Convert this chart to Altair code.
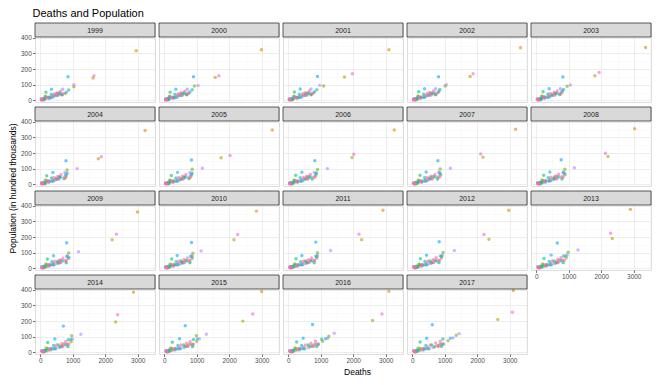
import math
import altair as alt
import pandas as pd

# ---------------- data ----------------
years = [1999, 2000, 2001, 2002, 2003, 2004, 2005, 2006, 2007, 2008,
         2009, 2010, 2011, 2012, 2013, 2014, 2015, 2016, 2017]

states = ["Alabama", "Alaska", "Arizona", "Arkansas", "California", "Colorado",
          "Connecticut", "Delaware", "District of Columbia", "Florida", "Georgia",
          "Hawaii", "Idaho", "Illinois", "Indiana", "Iowa", "Kansas", "Kentucky",
          "Louisiana", "Maine", "Maryland", "Massachusetts", "Michigan", "Minnesota",
          "Mississippi", "Missouri", "Montana", "Nebraska", "Nevada", "New Hampshire",
          "New Jersey", "New Mexico", "New York", "North Carolina", "North Dakota",
          "Ohio", "Oklahoma", "Oregon", "Pennsylvania", "Rhode Island",
          "South Carolina", "South Dakota", "Tennessee", "Texas", "Utah", "Vermont",
          "Virginia", "Washington", "West Virginia", "Wisconsin", "Wyoming"]

# population (hundred thousands) and deaths, one value per year 1999..2017
AL_pop = [34, 34, 35, 35, 35, 35, 36, 36, 36, 36, 37, 37, 37, 37, 37, 38, 38, 38, 38]
AL_deaths = [560, 570, 580, 590, 580, 570, 590, 610, 620, 630, 620, 610, 630, 650, 660, 680, 720, 760, 800]
AK_pop = [5, 5, 5, 5, 5, 5, 5, 5, 5, 5, 6, 6, 6, 6, 6, 6, 6, 6, 6]
AK_deaths = [90, 100, 110, 100, 110, 120, 110, 120, 130, 120, 110, 120, 130, 140, 130, 140, 150, 140, 150]
AZ_pop = [36, 38, 39, 40, 42, 43, 45, 46, 47, 48, 49, 49, 50, 51, 51, 52, 53, 54, 55]
AZ_deaths = [650, 700, 720, 740, 760, 780, 800, 820, 840, 830, 800, 790, 810, 840, 860, 880, 900, 930, 950]
AR_pop = [21, 21, 21, 22, 22, 22, 22, 22, 22, 23, 23, 23, 23, 23, 23, 23, 24, 24, 24]
AR_deaths = [330, 340, 350, 360, 350, 360, 370, 380, 390, 400, 390, 400, 410, 420, 430, 440, 450, 470, 480]
CA_pop = [317, 324, 324, 336, 338, 344, 347, 348, 352, 355, 360, 366, 372, 372, 377, 385, 389, 390, 396]
CA_deaths = [2951, 2988, 3097, 3331, 3362, 3225, 3322, 3261, 3179, 3027, 2991, 2836, 2915, 2967, 2897, 2869, 2997, 3097, 3109]
CO_pop = [32, 33, 34, 35, 35, 36, 36, 37, 37, 38, 38, 39, 39, 40, 41, 42, 42, 43, 44]
CO_deaths = [420, 440, 450, 460, 470, 480, 490, 500, 510, 520, 530, 540, 570, 600, 630, 660, 700, 740, 780]
CT_pop = [27, 27, 27, 28, 28, 28, 28, 28, 28, 28, 28, 29, 29, 29, 29, 29, 29, 29, 29]
CT_deaths = [150, 160, 170, 180, 170, 160, 170, 180, 190, 180, 170, 180, 200, 210, 190, 180, 190, 200, 180]
DE_pop = [6, 6, 6, 7, 7, 7, 7, 7, 7, 7, 7, 7, 7, 8, 8, 8, 8, 8, 8]
DE_deaths = [50, 60, 60, 70, 60, 70, 80, 70, 80, 70, 80, 90, 80, 90, 100, 90, 100, 110, 100]
DC_pop = [4, 4, 4, 4, 4, 4, 4, 4, 4, 4, 4, 5, 5, 5, 5, 5, 5, 5, 5]
DC_deaths = [110, 120, 130, 120, 130, 140, 130, 120, 110, 120, 110, 100, 90, 100, 90, 100, 110, 120, 100]
FL_pop = [143, 147, 149, 153, 157, 164, 170, 172, 174, 178, 183, 183, 183, 187, 191, 194, 200, 204, 211]
FL_deaths = [1623, 1568, 1729, 1781, 1802, 1787, 1751, 1964, 2176, 2207, 2213, 2146, 2258, 2359, 2340, 2322, 2419, 2593, 2632]
GA_pop = [44, 46, 48, 50, 52, 54, 56, 58, 60, 62, 63, 64, 65, 66, 67, 68, 70, 72, 74]
GA_deaths = [772, 760, 780, 800, 790, 800, 830, 850, 880, 890, 870, 860, 880, 900, 920, 950, 1000, 1060, 1103]
HI_pop = [10, 10, 10, 10, 10, 10, 10, 10, 10, 11, 11, 11, 11, 11, 11, 11, 11, 11, 11]
HI_deaths = [30, 40, 30, 40, 30, 40, 50, 40, 30, 40, 50, 40, 50, 40, 50, 40, 50, 40, 40]
ID_pop = [10, 10, 11, 11, 11, 11, 12, 12, 12, 12, 13, 13, 13, 13, 13, 13, 14, 14, 14]
ID_deaths = [150, 160, 160, 170, 170, 180, 180, 190, 190, 200, 200, 200, 210, 210, 220, 220, 230, 230, 230]
IL_pop = [88, 92, 92, 92, 90, 92, 97, 95, 98, 97, 99, 97, 100, 102, 104, 107, 107, 104, 110]
IL_deaths = [1036, 930, 1091, 1012, 951, 824, 860, 900, 860, 881, 875, 881, 900, 950, 980, 967, 991, 1250, 1355]
IN_pop = [47, 47, 48, 48, 48, 49, 49, 50, 50, 50, 51, 51, 51, 52, 52, 52, 53, 53, 53]
IN_deaths = [580, 590, 600, 610, 600, 590, 620, 640, 650, 640, 630, 650, 680, 700, 720, 740, 780, 820, 860]
IA_pop = [23, 23, 23, 23, 23, 23, 23, 24, 24, 24, 24, 24, 24, 24, 24, 25, 25, 25, 25]
IA_deaths = [170, 180, 190, 180, 190, 200, 190, 200, 210, 200, 210, 220, 210, 220, 230, 230, 240, 250, 250]
KS_pop = [21, 21, 21, 22, 22, 22, 22, 22, 22, 23, 23, 23, 23, 23, 23, 23, 24, 24, 24]
KS_deaths = [260, 270, 280, 270, 260, 270, 280, 290, 300, 290, 300, 310, 300, 310, 320, 330, 340, 350, 360]
KY_pop = [32, 32, 32, 33, 33, 33, 33, 34, 34, 34, 34, 35, 35, 35, 35, 35, 36, 36, 36]
KY_deaths = [500, 510, 520, 510, 500, 510, 530, 540, 550, 560, 570, 560, 570, 590, 600, 620, 640, 670, 690]
LA_pop = [36, 36, 36, 36, 37, 37, 37, 34, 35, 35, 36, 36, 36, 37, 37, 37, 37, 38, 38]
LA_deaths = [680, 690, 700, 710, 720, 730, 760, 740, 780, 790, 800, 790, 800, 820, 830, 850, 870, 880, 900]
ME_pop = [10, 10, 10, 10, 10, 10, 10, 11, 11, 11, 11, 11, 11, 11, 11, 11, 11, 11, 11]
ME_deaths = [90, 100, 90, 100, 110, 100, 110, 100, 110, 120, 110, 120, 110, 120, 130, 120, 130, 120, 130]
MD_pop = [42, 43, 43, 44, 44, 45, 45, 45, 46, 46, 46, 47, 47, 47, 47, 48, 48, 48, 48]
MD_deaths = [520, 530, 540, 560, 570, 580, 590, 580, 570, 560, 540, 520, 530, 540, 550, 560, 600, 620, 600]
MA_pop = [52, 53, 54, 55, 56, 56, 57, 58, 59, 59, 60, 61, 62, 62, 63, 64, 65, 66, 67]
MA_deaths = [176, 180, 190, 200, 210, 200, 220, 230, 240, 230, 220, 230, 240, 250, 240, 230, 250, 260, 243]
MI_pop = [67, 68, 69, 70, 70, 71, 72, 73, 74, 75, 76, 77, 78, 79, 80, 81, 83, 84, 86]
MI_deaths = [875, 860, 880, 850, 840, 830, 860, 870, 840, 830, 820, 810, 850, 870, 840, 860, 900, 1030, 942]
MN_pop = [39, 39, 40, 40, 41, 41, 41, 42, 42, 42, 43, 43, 43, 44, 44, 44, 45, 45, 45]
MN_deaths = [340, 330, 340, 350, 360, 350, 360, 370, 380, 370, 360, 370, 380, 390, 400, 410, 420, 410, 420]
MS_pop = [22, 22, 22, 23, 23, 23, 23, 23, 23, 23, 23, 23, 24, 24, 24, 24, 24, 24, 24]
MS_deaths = [390, 400, 410, 400, 410, 420, 430, 440, 450, 440, 430, 440, 450, 460, 470, 480, 500, 510, 520]
MO_pop = [44, 44, 45, 45, 45, 46, 46, 46, 47, 47, 47, 48, 48, 48, 49, 49, 49, 50, 50]
MO_deaths = [610, 620, 640, 650, 640, 630, 660, 690, 710, 700, 690, 700, 720, 740, 770, 800, 860, 920, 950]
MT_pop = [7, 7, 7, 7, 7, 8, 8, 8, 8, 8, 8, 8, 8, 8, 8, 9, 9, 9, 9]
MT_deaths = [130, 140, 130, 140, 150, 140, 150, 140, 150, 160, 150, 160, 150, 160, 170, 160, 170, 160, 170]
NE_pop = [14, 14, 14, 14, 14, 14, 14, 15, 15, 15, 15, 15, 15, 15, 15, 16, 16, 16, 16]
NE_deaths = [140, 130, 140, 150, 140, 130, 140, 150, 160, 150, 140, 150, 160, 150, 160, 170, 160, 170, 170]
NV_pop = [16, 17, 18, 18, 19, 20, 21, 21, 22, 22, 23, 23, 23, 23, 24, 24, 24, 25, 25]
NV_deaths = [320, 330, 340, 350, 360, 370, 380, 390, 400, 390, 380, 370, 380, 390, 400, 410, 420, 430, 430]
NH_pop = [10, 10, 10, 10, 10, 10, 10, 10, 11, 11, 11, 11, 11, 11, 11, 11, 11, 11, 11]
NH_deaths = [70, 80, 70, 80, 90, 80, 90, 80, 90, 100, 90, 100, 90, 100, 110, 100, 110, 100, 110]
NJ_pop = [71, 72, 73, 74, 75, 76, 77, 78, 79, 80, 81, 82, 83, 84, 85, 86, 88, 90, 91]
NJ_deaths = [347, 360, 370, 380, 400, 390, 410, 420, 430, 420, 410, 400, 420, 440, 460, 450, 470, 460, 444]
NM_pop = [15, 15, 15, 15, 16, 16, 16, 16, 16, 16, 17, 17, 17, 17, 17, 17, 17, 17, 17]
NM_deaths = [260, 270, 260, 250, 260, 270, 280, 290, 300, 290, 280, 290, 300, 310, 320, 330, 340, 350, 350]
NY_pop = [151, 151, 153, 151, 149, 151, 156, 152, 151, 157, 164, 166, 168, 171, 163, 168, 170, 179, 177]
NY_deaths = [854, 900, 900, 809, 821, 793, 839, 818, 790, 769, 815, 839, 848, 830, 647, 711, 647, 748, 617]
NC_pop = [52, 54, 56, 58, 60, 62, 64, 66, 68, 70, 72, 74, 76, 78, 80, 82, 85, 88, 91]
NC_deaths = [802, 790, 810, 820, 800, 790, 830, 850, 860, 870, 880, 860, 880, 900, 910, 940, 1020, 1150, 1173]
ND_pop = [5, 5, 5, 5, 5, 5, 5, 5, 5, 5, 5, 5, 6, 6, 6, 6, 6, 6, 6]
ND_deaths = [45, 50, 40, 50, 60, 50, 60, 50, 60, 70, 60, 70, 60, 70, 80, 70, 80, 70, 80]
OH_pop = [71, 72, 73, 74, 74, 75, 76, 77, 78, 79, 80, 81, 82, 83, 84, 85, 87, 90, 93]
OH_deaths = [693, 710, 700, 720, 740, 760, 790, 800, 820, 840, 830, 850, 900, 930, 950, 990, 1080, 1210, 1255]
OK_pop = [28, 28, 28, 29, 29, 29, 29, 30, 30, 30, 31, 31, 31, 31, 31, 32, 32, 32, 32]
OK_deaths = [420, 430, 440, 450, 440, 450, 470, 480, 500, 510, 520, 510, 530, 550, 560, 580, 600, 620, 640]
OR_pop = [28, 28, 29, 29, 30, 30, 30, 31, 31, 32, 32, 32, 33, 33, 33, 34, 34, 35, 35]
OR_deaths = [350, 360, 370, 380, 370, 380, 390, 400, 410, 420, 420, 430, 440, 450, 450, 460, 470, 480, 480]
PA_pop = [100, 96, 97, 100, 98, 101, 103, 101, 104, 107, 107, 112, 115, 115, 118, 116, 116, 122, 120]
PA_deaths = [1036, 1043, 970, 1052, 1052, 1137, 1173, 1204, 1173, 1173, 1179, 1134, 1304, 1295, 1286, 1249, 1295, 1416, 1447]
RI_pop = [8, 8, 8, 8, 8, 8, 8, 8, 8, 8, 8, 8, 9, 9, 9, 9, 9, 9, 9]
RI_deaths = [40, 50, 40, 50, 40, 50, 40, 50, 60, 50, 40, 50, 60, 50, 60, 50, 60, 50, 50]
SC_pop = [33, 33, 34, 34, 35, 35, 36, 36, 37, 37, 38, 38, 39, 39, 40, 40, 41, 41, 42]
SC_deaths = [530, 540, 550, 560, 550, 560, 580, 600, 610, 620, 630, 620, 640, 660, 680, 700, 740, 780, 810]
SD_pop = [6, 6, 6, 6, 6, 6, 6, 6, 6, 6, 6, 7, 7, 7, 7, 7, 7, 7, 7]
SD_deaths = [60, 70, 60, 70, 60, 70, 80, 70, 80, 70, 80, 70, 80, 90, 80, 90, 80, 90, 90]
TN_pop = [44, 45, 45, 46, 46, 47, 47, 48, 48, 49, 49, 50, 50, 51, 51, 52, 52, 53, 53]
TN_deaths = [700, 720, 730, 720, 740, 750, 770, 780, 800, 790, 780, 770, 790, 810, 820, 840, 860, 880, 900]
TX_pop = [157, 157, 170, 170, 179, 177, 185, 193, 195, 199, 219, 216, 219, 216, 224, 240, 246, 246, 257]
TX_deaths = [1653, 1681, 1973, 1872, 1933, 1878, 2024, 2015, 2106, 2128, 2343, 2258, 2176, 2207, 2289, 2383, 2723, 2884, 3079]
UT_pop = [18, 18, 19, 19, 20, 20, 21, 21, 22, 22, 23, 23, 23, 24, 24, 25, 25, 26, 26]
UT_deaths = [180, 190, 200, 210, 220, 230, 240, 250, 260, 270, 270, 280, 290, 300, 310, 320, 330, 340, 350]
VT_pop = [5, 5, 5, 5, 5, 5, 5, 5, 5, 5, 5, 5, 5, 5, 5, 5, 5, 5, 5]
VT_deaths = [40, 50, 40, 50, 60, 50, 40, 50, 60, 50, 60, 50, 60, 70, 60, 70, 60, 70, 70]
VA_pop = [58, 59, 60, 60, 61, 62, 63, 63, 64, 65, 65, 66, 67, 68, 68, 69, 70, 71, 72]
VA_deaths = [620, 640, 650, 660, 650, 640, 670, 680, 700, 690, 700, 710, 720, 740, 760, 780, 800, 840, 860]
WA_pop = [48, 49, 49, 50, 50, 51, 52, 52, 53, 54, 54, 55, 55, 56, 57, 57, 58, 59, 60]
WA_deaths = [520, 510, 530, 540, 550, 540, 560, 570, 580, 590, 600, 610, 620, 640, 660, 670, 690, 700, 720]
WV_pop = [15, 15, 15, 15, 15, 15, 15, 15, 15, 15, 15, 15, 15, 15, 15, 15, 15, 15, 15]
WV_deaths = [250, 260, 270, 260, 250, 260, 270, 280, 270, 260, 270, 280, 270, 280, 290, 280, 290, 300, 300]
WI_pop = [43, 43, 44, 44, 44, 45, 45, 45, 45, 46, 46, 46, 46, 46, 47, 47, 47, 47, 47]
WI_deaths = [440, 430, 450, 460, 440, 430, 450, 470, 460, 450, 440, 450, 470, 480, 490, 500, 520, 540, 560]
WY_pop = [4, 4, 4, 4, 4, 4, 4, 4, 4, 4, 4, 5, 5, 5, 5, 5, 5, 5, 5]
WY_deaths = [80, 70, 80, 90, 80, 90, 100, 90, 100, 90, 100, 110, 100, 110, 100, 110, 100, 110, 110]

series = [
    (AL_pop, AL_deaths), (AK_pop, AK_deaths), (AZ_pop, AZ_deaths), (AR_pop, AR_deaths),
    (CA_pop, CA_deaths), (CO_pop, CO_deaths), (CT_pop, CT_deaths), (DE_pop, DE_deaths),
    (DC_pop, DC_deaths), (FL_pop, FL_deaths), (GA_pop, GA_deaths), (HI_pop, HI_deaths),
    (ID_pop, ID_deaths), (IL_pop, IL_deaths), (IN_pop, IN_deaths), (IA_pop, IA_deaths),
    (KS_pop, KS_deaths), (KY_pop, KY_deaths), (LA_pop, LA_deaths), (ME_pop, ME_deaths),
    (MD_pop, MD_deaths), (MA_pop, MA_deaths), (MI_pop, MI_deaths), (MN_pop, MN_deaths),
    (MS_pop, MS_deaths), (MO_pop, MO_deaths), (MT_pop, MT_deaths), (NE_pop, NE_deaths),
    (NV_pop, NV_deaths), (NH_pop, NH_deaths), (NJ_pop, NJ_deaths), (NM_pop, NM_deaths),
    (NY_pop, NY_deaths), (NC_pop, NC_deaths), (ND_pop, ND_deaths), (OH_pop, OH_deaths),
    (OK_pop, OK_deaths), (OR_pop, OR_deaths), (PA_pop, PA_deaths), (RI_pop, RI_deaths),
    (SC_pop, SC_deaths), (SD_pop, SD_deaths), (TN_pop, TN_deaths), (TX_pop, TX_deaths),
    (UT_pop, UT_deaths), (VT_pop, VT_deaths), (VA_pop, VA_deaths), (WA_pop, WA_deaths),
    (WV_pop, WV_deaths), (WI_pop, WI_deaths), (WY_pop, WY_deaths),
]

title_text = "Deaths and Population"
x_title = "Deaths"
y_title = "Population (in hundred thousands)"

rows = []
for st, (pops, deaths) in zip(states, series):
    if len(pops) != len(years) or len(deaths) != len(years):
        raise ValueError(f"length mismatch for {st}: {len(pops)} {len(deaths)}")
    for yr, p, d in zip(years, pops, deaths):
        rows.append({"state": st, "year": yr, "pop": p, "deaths": d})
df = pd.DataFrame(rows)


# ggplot2 default hue palette (hcl, c=100, l=65)
def hcl_hex(h, c=100.0, l=65.0):
    hr = math.radians(h)
    U, V = c * math.cos(hr), c * math.sin(hr)
    Xn, Yn, Zn = 95.047, 100.0, 108.883
    den = Xn + 15 * Yn + 3 * Zn
    un, vn = 4 * Xn / den, 9 * Yn / den
    Y = Yn * ((l + 16) / 116) ** 3 if l > 8 else Yn * l / 903.3
    u, v = U / (13 * l) + un, V / (13 * l) + vn
    X = 9.0 * Y * u / (4 * v)
    Z = -X / 3 - 5 * Y + 3 * Y / v
    X, Y, Z = X / 100, Y / 100, Z / 100
    rgb = [3.240479 * X - 1.537150 * Y - 0.498535 * Z,
           -0.969256 * X + 1.875992 * Y + 0.041556 * Z,
           0.055648 * X - 0.204043 * Y + 1.057311 * Z]
    out = []
    for t in rgb:
        t = 12.92 * t if t <= 0.0031308 else 1.055 * t ** (1 / 2.4) - 0.055
        out.append(int(round(min(1, max(0, t)) * 255)))
    return "#%02X%02X%02X" % tuple(out)


n = len(states)
colors = [hcl_hex(15 + i * 360.0 / n) for i in range(n)]

# ---------------- layout ----------------
FONT = "Liberation Sans, Arial, Helvetica, sans-serif"
W = 120          # panel width
STRIP = 14       # strip height
PANEL = 65       # plotting height under the strip
H = STRIP + PANEL
ROW_SP = 5
COL_SP = 4
NCOL = 5
Y_LO, Y_HI = -10, 405
y_top = Y_HI + (Y_HI - Y_LO) * STRIP / PANEL
X_DOM = [-160, 3530]
X_VALUES = [0, 500, 1000, 1500, 2000, 2500, 3000, 3500]
Y_VALUES = [0, 50, 100, 150, 200, 250, 300, 350, 400]
AXIS_W = 14.5    # width taken by the y tick labels + ticks

grid_major = "#EBEBEB"
grid_minor = "#F4F4F4"


def make_axis(values, step, show):
    test = f"datum.value % {step} !== 0"
    common = dict(
        values=values,
        gridColor={"condition": {"test": test, "value": grid_minor}, "value": grid_major},
        gridWidth={"condition": {"test": test, "value": 0.5}, "value": 0.9},
        domain=False, title=None,
    )
    if show:
        return alt.Axis(
            labelExpr=f"datum.value % {step} === 0 ? datum.label : ''",
            format="d",
            tickColor={"condition": {"test": test, "value": "transparent"}, "value": "#333333"},
            tickSize=2.5, tickWidth=0.7, labelPadding=1.2, labelFontSize=6.5,
            labelColor="#4D4D4D", labelFont=FONT, labelFlush=False, **common,
        )
    return alt.Axis(labels=False, ticks=False, **common)


def panel(yr, show_x, show_y):
    pts = alt.Chart(df).transform_filter(alt.datum.year == yr).mark_circle(
        size=12, opacity=0.6
    ).encode(
        x=alt.X("deaths:Q", scale=alt.Scale(domain=X_DOM, nice=False, zero=False),
                axis=make_axis(X_VALUES, 1000, show_x)),
        y=alt.Y("pop:Q", scale=alt.Scale(domain=[Y_LO, y_top], nice=False, zero=False),
                axis=make_axis(Y_VALUES, 100, show_y)),
        color=alt.Color("state:N", scale=alt.Scale(domain=states, range=colors), legend=None),
    )
    lab = pd.DataFrame({"label": [str(yr)]})
    rect = alt.Chart(lab).mark_rect(fill="#D9D9D9", stroke="#333333", strokeWidth=0.8).encode(
        x=alt.value(0), x2=alt.value(W), y=alt.value(0), y2=alt.value(STRIP),
    )
    txt = alt.Chart(lab).mark_text(fontSize=7, color="#1A1A1A", font=FONT).encode(
        x=alt.value(W / 2), y=alt.value(STRIP / 2 + 0.5), text="label:N",
    )
    return alt.layer(pts, rect, txt).properties(width=W, height=H)


n_years = len(years)
panels = []
for idx, yr in enumerate(years):
    show_x = idx + NCOL >= n_years
    show_y = idx % NCOL == 0
    panels.append(panel(yr, show_x, show_y))

grid = alt.concat(*panels, columns=NCOL, spacing={"row": ROW_SP, "column": COL_SP},
                  bounds="flush")

GRID_H = 4 * H + 3 * ROW_SP
GRID_W = NCOL * W + (NCOL - 1) * COL_SP

xtitle = alt.Chart(pd.DataFrame({"t": [x_title]})).mark_text(
    fontSize=8.5, font=FONT, color="black"
).encode(text="t:N", x=alt.value(AXIS_W + GRID_W / 2), y=alt.value(5)).properties(
    width=GRID_W, height=8, view=alt.ViewBackground(stroke="transparent")
)

right = alt.vconcat(grid, xtitle, spacing=1)

ytitle = alt.Chart(pd.DataFrame({"t": [y_title]})).mark_text(
    angle=270, fontSize=8.5, font=FONT, color="black"
).encode(text="t:N", x=alt.value(4), y=alt.value(GRID_H / 2)).properties(
    width=8, height=GRID_H, view=alt.ViewBackground(stroke="transparent")
)

chart = alt.hconcat(ytitle, right, spacing=1).properties(
    title=alt.TitleParams(title_text, anchor="start", fontSize=11, fontWeight="normal",
                          font=FONT, color="black", dx=24, offset=3),
    padding={"left": 0, "top": 0, "right": 0, "bottom": 0},
).configure_view(stroke="#333333", strokeWidth=0.8).configure(font=FONT)

chart.save("out.html", embed_options={"renderer": "svg", "actions": False})
